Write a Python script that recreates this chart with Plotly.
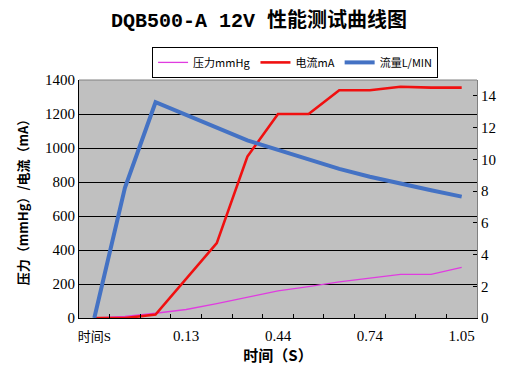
import plotly.graph_objects as go

categories = ["时间S", "0", "0.03", "0.13", "0.23", "0.33", "0.44",
              "0.54", "0.64", "0.74", "0.84", "0.95", "1.05"]
shown_labels = ["时间S", "0.13", "0.44", "0.74", "1.05"]
pressure = [0, 10, 28, 50, 85, 122, 160, 185, 213, 235, 257, 257, 298]
current = [0, 0, 20, 230, 440, 950, 1200, 1200, 1340, 1340, 1360, 1355, 1355]
flow = [0, 8.2, 13.6, 12.8, 12.0, 11.2, 10.6, 10.0, 9.4, 8.9, 8.45, 8.05, 7.65]


def fmt_label(c):
    if c not in shown_labels:
        return ""
    if any(ord(ch) > 127 for ch in c):
        return "<span style='font-size:13px'>" + c + "</span>"
    return c


ticktext = [fmt_label(c) for c in categories]

num_font = "Liberation Serif, Noto Sans CJK SC"
cjk_font = "Noto Sans CJK SC, Liberation Serif"

fig = go.Figure()
fig.add_trace(go.Scatter(x=categories, y=pressure, name="压力mmHg", mode="lines",
                         line=dict(color="#E03CE0", width=1.3)))
fig.add_trace(go.Scatter(x=categories, y=current, name="电流mA", mode="lines",
                         line=dict(color="#F01010", width=2.6)))
fig.add_trace(go.Scatter(x=categories, y=flow, name="流量L/MIN", mode="lines",
                         yaxis="y2", line=dict(color="#4472C4", width=4)))

fig.update_layout(
    width=502, height=367,
    margin=dict(l=71, r=33, t=72, b=57, autoexpand=False),
    paper_bgcolor="white",
    plot_bgcolor="#C0C0C0",
    title=dict(text="<b>DQB500-A 12V 性能测试曲线图</b>", x=0.5, xanchor="center",
               y=0.967, yanchor="middle",
               font=dict(family="Liberation Mono, Noto Sans CJK SC", size=20, color="black")),
    xaxis=dict(
        type="category", tickson="boundaries",
        tickmode="array", tickvals=categories, ticktext=ticktext, tickangle=0,
        ticks="inside", ticklen=4, tickcolor="black", ticklabelstandoff=4,
        showgrid=False, showline=True, linecolor="black", linewidth=1,
        tickfont=dict(family=num_font, size=15, color="black"),
        title=dict(text="<b>时间（S）</b>", font=dict(family=cjk_font, size=15, color="black"),
                   standoff=6),
        range=[-0.5, 12.5], automargin=False,
    ),
    yaxis=dict(
        range=[0, 1400], dtick=200, showgrid=True, gridcolor="black", gridwidth=1,
        showline=True, linecolor="black", linewidth=1, ticks="",
        tickfont=dict(family=num_font, size=15, color="black"),
        title=dict(text="<b>压力（mmHg）/电流（mA）</b>",
                   font=dict(family=cjk_font, size=13, color="black"), standoff=13),
        zeroline=False, automargin=False,
    ),
    yaxis2=dict(
        range=[0, 15], tickvals=[0, 2, 4, 6, 8, 10, 12, 14], overlaying="y", side="right",
        showgrid=False, ticks="inside", ticklen=4, tickcolor="black",
        showline=True, linecolor="#808080", linewidth=1,
        tickfont=dict(family=num_font, size=15, color="black"), zeroline=False,
        automargin=False,
    ),
    legend=dict(
        orientation="h", xref="container", yref="container",
        x=0.287, y=0.894, xanchor="left", yanchor="top",
        bgcolor="white", bordercolor="black", borderwidth=1,
        font=dict(family=cjk_font, size=11, color="black"),
        itemwidth=30, tracegroupgap=0,
    ),
    showlegend=True,
)

fig.add_shape(type="line", xref="paper", yref="paper", x0=0, x1=1, y0=1, y1=1,
              line=dict(color="#808080", width=1))

fig.write_html("out.html")
